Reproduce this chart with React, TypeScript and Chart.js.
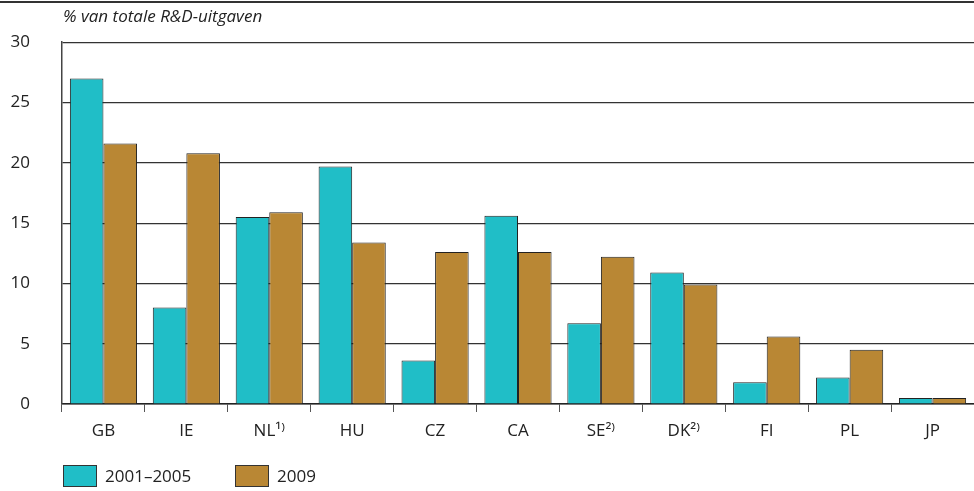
import React, { useEffect, useRef } from "react";
import { Chart, registerables } from "chart.js";

Chart.register(...registerables);

const categories = ["GB", "IE", "NL¹⁾", "HU", "CZ", "CA", "SE²⁾", "DK²⁾", "FI", "PL", "JP"];
const series2001_2005 = [27.0, 8.0, 15.5, 19.7, 3.6, 15.6, 6.7, 10.9, 1.8, 2.2, 0.5];
const series2009 = [21.6, 20.8, 15.9, 13.4, 12.6, 12.6, 12.2, 9.9, 5.6, 4.5, 0.5];
const seriesLabels = ["2001–2005", "2009"];
const yTitle = "% van totale R&D-uitgaven";
const yMax = 30;
const yStep = 5;

const COLORS = ["#20BEC7", "#B98734"];
const FONT = "'Open Sans', 'Noto Sans', sans-serif";
const FS = 17;

export default function App() {
  const ref = useRef<HTMLCanvasElement | null>(null);
  useEffect(() => {
    if (!ref.current) return;
    const decor = {
      id: "decor",
      afterDraw(chart: any) {
        const ctx = chart.ctx;
        const area = chart.chartArea;
        ctx.save();
        // top rule
        ctx.fillStyle = "#333";
        ctx.fillRect(0, 1, chart.width, 2);
        // title
        ctx.fillStyle = "#222";
        ctx.font = `italic ${FS}px ${FONT}`;
        ctx.textBaseline = "middle";
        ctx.textAlign = "left";
        ctx.fillText(yTitle, area.left + 1, 17);
        // legend
        let x = area.left + 1;
        const y = 465;
        chart.data.datasets.forEach((ds: any, i: number) => {
          ctx.fillStyle = ds.backgroundColor;
          ctx.fillRect(x, y, 34, 22);
          ctx.strokeStyle = "#333";
          ctx.lineWidth = 1;
          ctx.strokeRect(x + 0.5, y + 0.5, 33, 21);
          ctx.fillStyle = "#222";
          ctx.font = `${FS}px ${FONT}`;
          ctx.fillText(ds.label, x + 42, y + 12);
          x += 172;
        });
        ctx.restore();
      },
    };
    const chart = new Chart(ref.current, {
      type: "bar",
      data: {
        labels: categories,
        datasets: [
          {
            label: seriesLabels[0],
            data: series2001_2005,
            backgroundColor: COLORS[0],
            borderColor: "#222",
            borderWidth: 1,
            categoryPercentage: 0.81,
            barPercentage: 1,
          },
          {
            label: seriesLabels[1],
            data: series2009,
            backgroundColor: COLORS[1],
            borderColor: "#222",
            borderWidth: 1,
            categoryPercentage: 0.81,
            barPercentage: 1,
          },
        ],
      },
      options: {
        animation: false,
        responsive: false,
        maintainAspectRatio: false,
        layout: { padding: { top: 42, right: 0, left: 0, bottom: 0 } },
        plugins: {
          legend: { display: false },
          tooltip: { enabled: false },
          title: { display: false },
        },
        scales: {
          x: {
            grid: {
              display: true,
              drawOnChartArea: false,
              drawTicks: true,
              tickLength: 8,
              color: "#555",
              offset: true,
            },
            border: { display: true, color: "#222", width: 1.5 },
            ticks: {
              color: "#222",
              font: { family: FONT, size: FS },
              padding: 9,
              maxRotation: 0,
              autoSkip: false,
            },
            afterFit: (s: any) => {
              s.height = 87;
            },
          },
          y: {
            min: 0,
            max: yMax,
            ticks: {
              stepSize: yStep,
              color: "#222",
              font: { family: FONT, size: FS },
              padding: 32,
            },
            grid: {
              color: "#333",
              lineWidth: 1.2,
              drawTicks: false,
            },
            border: { display: true, color: "#444", width: 1.5 },
            afterFit: (s: any) => {
              s.width = 62;
            },
          },
        },
      },
      plugins: [decor],
    });
    return () => chart.destroy();
  }, []);
  return (
    <div style={{ position: "absolute", left: 0, top: 0, width: 974, height: 491, background: "#fff" }}>
      <canvas ref={ref} width={974} height={491} style={{ display: "block" }} />
    </div>
  );
}
